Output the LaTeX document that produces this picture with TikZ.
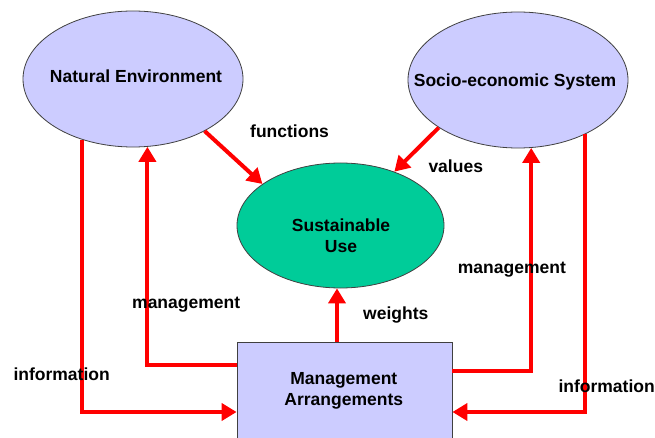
\documentclass[tikz,border=0pt]{standalone}
\usepackage{fontspec}
\setmainfont{Liberation Sans}
\usetikzlibrary{arrows.meta,shapes.geometric}
\definecolor{lavender}{HTML}{CCCCFF}
\definecolor{seagreen}{HTML}{00CC99}
\definecolor{edgegray}{HTML}{404040}
\definecolor{arrowred}{HTML}{FF0000}
\begin{document}
\begin{tikzpicture}[x=1pt,y=-1pt,
  txt/.style={font=\fontsize{17.5pt}{20.5pt}\selectfont\bfseries, inner sep=0pt},
  lbl/.style={txt, anchor=base west},
  blob/.style={ellipse, draw=edgegray, line width=0.8pt, inner sep=0pt},
  flow/.style={draw=arrowred, line width=4pt, -{Triangle[length=15pt,width=17pt]}},
  plain/.style={draw=arrowred, line width=4pt}
]
\useasboundingbox (0,0) rectangle (655,438);
\fill[white] (0,0) rectangle (655,438);

% the three ellipses
\node[blob, fill=lavender, minimum width=220pt, minimum height=136pt] (ne) at (133,79) {};
\node[blob, fill=lavender, minimum width=220pt, minimum height=136pt] (se) at (518,80) {};
\node[blob, fill=seagreen, minimum width=207pt, minimum height=125pt] (su) at (340.5,225.5) {};

% management box, running off the lower edge
\begin{scope}
  \clip (0,0) rectangle (655,438);
  \node[draw=edgegray, line width=0.8pt, fill=lavender, minimum width=215pt, minimum height=110pt, inner sep=0pt] (mb) at (344.5,397) {};
\end{scope}

% titles inside the shapes (base = last line)
\node[txt, anchor=base] (neT) at (136,82.7) {Natural Environment};
\node[txt, anchor=base] (seT) at (515,86.7) {Socio-economic System};
\node[txt, anchor=base, align=center] (suT) at (341,252) {Sustainable\\Use};
\node[txt, anchor=base, align=center] (mbT) at (343.8,405) {Management\\Arrangements};

% flows into sustainable use
\draw[flow] (ne.-36) -- (su.152.4);
\draw[flow] (se.-149) -- (su.45);
\draw[flow] ([xshift=-7.5pt]mb.north) -- ([xshift=-7.5pt]mb.north |- su.south);

% natural environment loop
\draw[flow] (ne.230) |- ([yshift=-15pt]mb.west);
\draw[flow] ([yshift=32pt]mb.west) -| (ne.282.5);

% socio-economic loop
\draw[flow] ([yshift=26pt]mb.east) -| (se.281.7);
\draw[flow] (se.321.8) |- ([yshift=-15pt]mb.east);

% connector labels
\node[lbl] (lFun) at (250,138) {functions};
\node[lbl] (lVal) at (428.3,173) {values};
\node[lbl] (lMgL) at (132,308) {management};
\node[lbl] (lInL) at (13.3,380.7) {information};
\node[lbl] (lMgR) at (457.7,273.3) {management};
\node[lbl] (lInR) at (558.3,392.3) {information};
\node[lbl] (lWgt) at (363,319) {weights};
\end{tikzpicture}
\end{document}
